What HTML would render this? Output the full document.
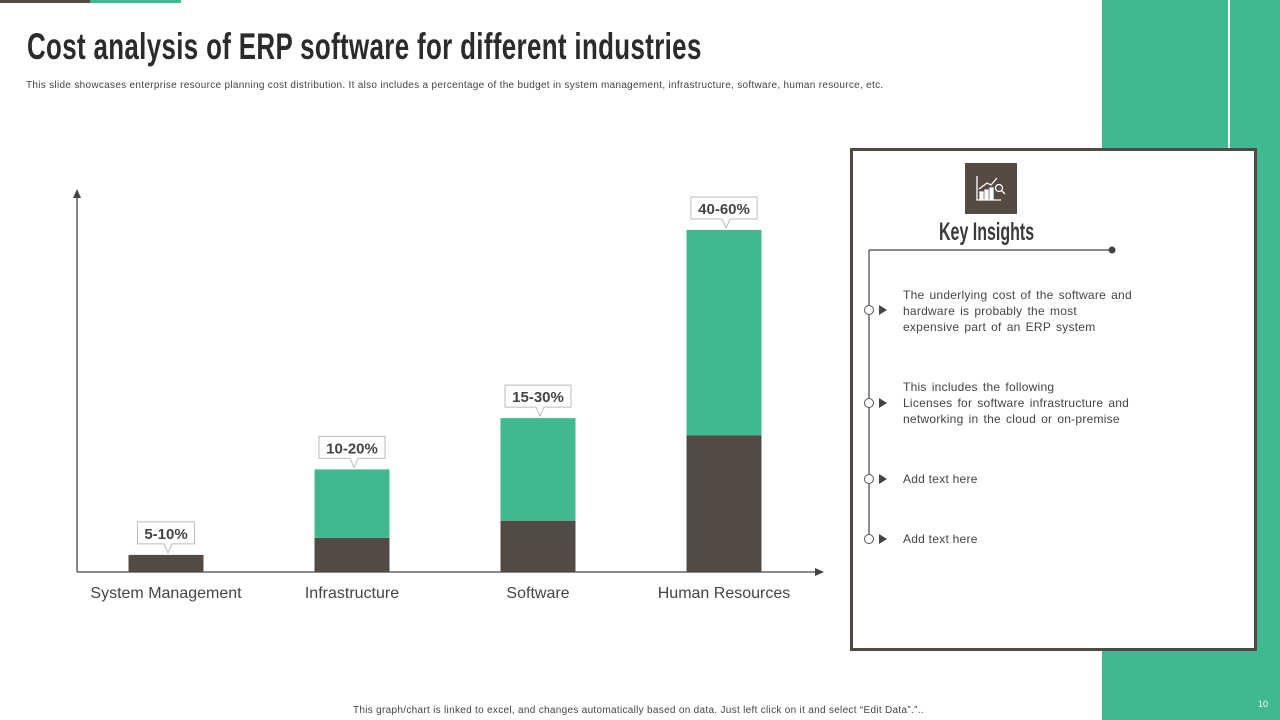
<!DOCTYPE html>
<html><head><meta charset="utf-8"><style>
body{margin:0;width:1280px;height:720px;overflow:hidden;background:#fff;font-family:"Liberation Sans",sans-serif;position:relative}
.abs{position:absolute}
</style></head><body>
<div class="abs" style="left:0;top:0;width:90px;height:3px;background:#4f4944"></div>
<div class="abs" style="left:90px;top:0;width:91px;height:3px;background:#40b993"></div>
<div class="abs" style="left:1102px;top:0;width:178px;height:720px;background:#40b993"></div>
<div class="abs" style="left:1228px;top:0;width:2px;height:150px;background:#fff"></div>
<div class="abs" style="left:27px;top:26px;font-size:37px;font-weight:bold;color:#2b2b2b;transform:scaleX(0.70);transform-origin:left top;white-space:nowrap;letter-spacing:0.5px">Cost analysis of ERP software for different industries</div>
<div class="abs" style="left:26px;top:80px;font-size:10px;color:#444;white-space:nowrap;letter-spacing:0.3px">This slide showcases enterprise resource planning cost distribution. It also includes a percentage of the budget in system management, infrastructure, software, human resource, etc.</div>
<div class="abs" style="left:353px;top:705px;font-size:10px;color:#444;white-space:nowrap;letter-spacing:0.3px">This graph/chart is linked to excel, and changes automatically based on data. Just left click on it and select “Edit Data”.”..</div>
<div class="abs" style="left:1258px;top:699px;font-size:9px;color:#fff">10</div>

<svg class="abs" style="left:0;top:0" width="850" height="620" id="chart"></svg>

<div class="abs" style="left:850px;top:148px;width:401px;height:497px;border:3px solid #4f4944;background:#fff"></div>
<div class="abs" style="left:965px;top:163px;width:52px;height:51px;background:#574a42">
<svg width="52" height="51"><g stroke="#fff" fill="none" stroke-width="1.3"><path d="M12 13V37H36"/><rect x="15" y="29" width="3" height="7" fill="#fff"/><rect x="20" y="27" width="3" height="9" fill="#fff"/><rect x="25" y="25" width="3" height="11" fill="#fff"/><path d="M14 26L22 20L26 22L32 15"/><circle cx="34" cy="25" r="3.5"/><path d="M36.5 27.5L40 31"/></g></svg></div>
<div class="abs" style="left:939px;top:218px;font-size:25px;font-weight:bold;color:#3a3a3a;transform:scaleX(0.64);transform-origin:left top;white-space:nowrap">Key Insights</div>
<svg class="abs" style="left:850px;top:240px" width="300" height="320">
<path d="M19 10H262M19 10V300" stroke="#444" stroke-width="1.2" fill="none"/>
<circle cx="262" cy="10" r="3.5" fill="#444"/>
<g fill="#fff" stroke="#555"><circle cx="19" cy="70" r="4.5"/><circle cx="19" cy="163" r="4.5"/><circle cx="19" cy="239" r="4.5"/><circle cx="19" cy="299" r="4.5"/></g>
<g fill="#444"><path d="M29 65L37 70L29 75Z"/><path d="M29 158L37 163L29 168Z"/><path d="M29 234L37 239L29 244Z"/><path d="M29 294L37 299L29 304Z"/></g>
</svg>
<div class="abs" style="left:903px;top:287px;font-size:12px;line-height:16px;color:#444;word-spacing:1.5px;letter-spacing:0.25px">The underlying cost of the software and<br>hardware is probably the most<br>expensive part of an ERP system</div>
<div class="abs" style="left:903px;top:379px;font-size:12px;line-height:16px;color:#444;word-spacing:1.5px;letter-spacing:0.25px">This includes the following<br>Licenses for software infrastructure and<br>networking in the cloud or on-premise</div>
<div class="abs" style="left:903px;top:472px;font-size:12px;color:#444;letter-spacing:0.25px">Add text here</div>
<div class="abs" style="left:903px;top:532px;font-size:12px;color:#444;letter-spacing:0.25px">Add text here</div>

<script>
const categories=["System Management","Infrastructure","Software","Human Resources"];
const lowValues=[5,10,15,40];
const extraValues=[0,20,30,60];
const rangeLabels=["5-10%","10-20%","15-30%","40-60%"];
const svg=document.getElementById('chart');
const NS='http://www.w3.org/2000/svg';
const base=572, scale=3.42, x0=166, step=186, bw=75;
const y=v=>base-v*scale;
const xc=i=>x0+i*step;
function mk(t,a){const e=document.createElementNS(NS,t);for(const k in a)e.setAttribute(k,a[k]);svg.appendChild(e);return e;}
let ax=mk('path',{d:'M77 572V192M77 572H818',stroke:'#444','stroke-width':1.3,fill:'none'});


let a1=mk('path',{d:'M73 198L77 189L81 198Z',fill:'#444'});


let a2=mk('path',{d:'M815 568L824 572L815 576Z',fill:'#444'});


categories.forEach((c,i)=>{
  const x=xc(i)-bw/2;
  let d=mk('rect',{x:x,y:y(lowValues[i]),width:bw,height:lowValues[i]*scale,fill:'#514a45'});
  
  
  const tot=lowValues[i]+extraValues[i];
  let g=mk('rect',{x:x,y:y(tot),width:bw,height:extraValues[i]*scale,fill:'#40b993'});
  
  
  const ty=y(tot);
  const cx=xc(i), lw=rangeLabels[i].length*9+12;
  let cb=mk('path',{d:`M${cx-lw/2} ${ty-33}H${cx+lw/2}V${ty-11}H${cx+6}L${cx+2} ${ty-2}L${cx-2} ${ty-11}H${cx-lw/2}Z`,fill:'#fff',stroke:'#bbb','stroke-width':1});
  
  
  let t=mk('text',{x:cx,y:ty-16,'text-anchor':'middle','font-size':15,'font-weight':'bold',fill:'#444','font-family':'Liberation Sans, sans-serif'});
  t.textContent=rangeLabels[i];
  
  
  let l=mk('text',{x:cx,y:598,'text-anchor':'middle','font-size':16,fill:'#444','font-family':'Liberation Sans, sans-serif'});
  l.textContent=c;
  
  
});
</script>
</body></html>
